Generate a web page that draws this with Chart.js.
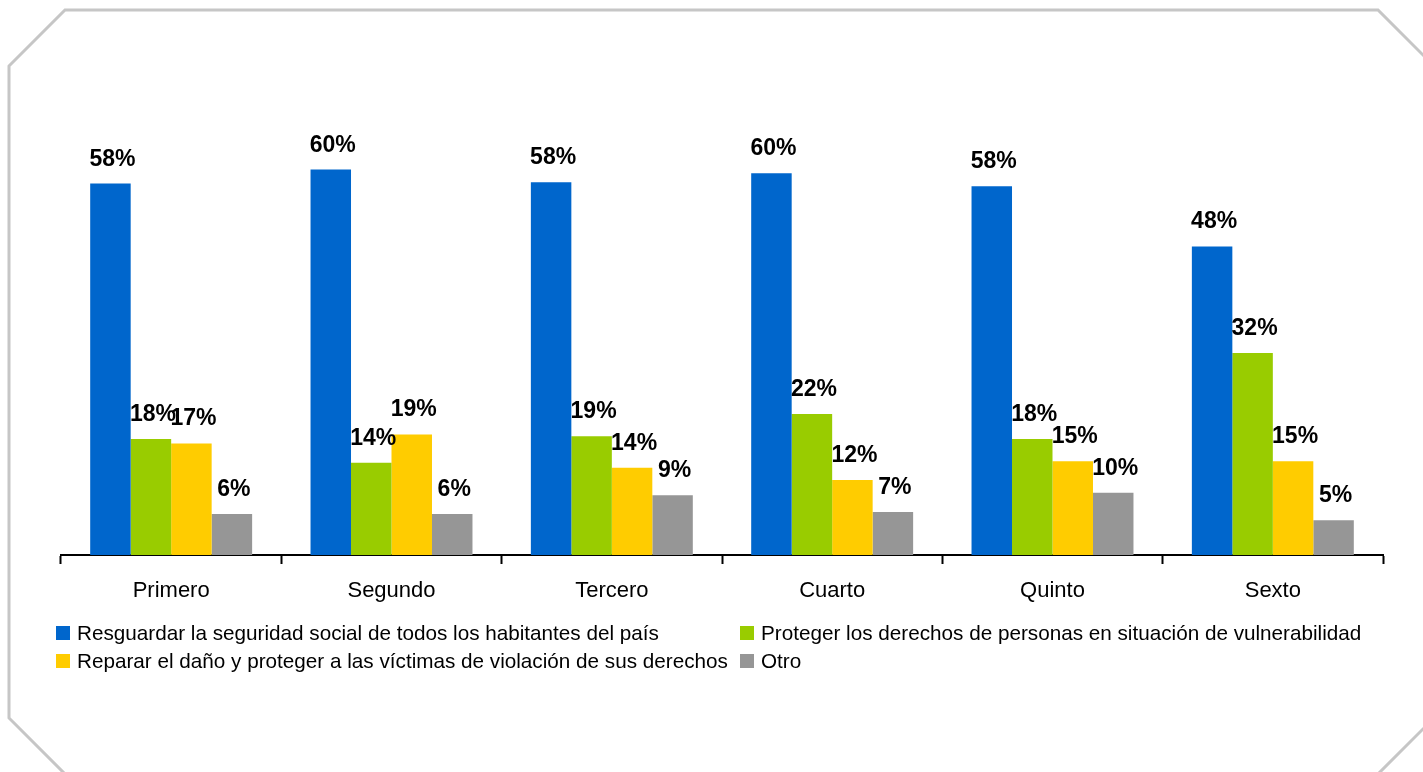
<!DOCTYPE html>
<html>
<head>
<meta charset="utf-8">
<script src="https://cdn.jsdelivr.net/npm/chart.js@4/dist/chart.umd.min.js"></script>
<style>
  html, body { margin: 0; padding: 0; background: #ffffff; }
  #wrap { position: relative; width: 1423px; height: 772px; overflow: hidden; }
  #chart { position: absolute; left: 0; top: 0; }
  #legend {
    position: absolute; left: 56px; top: 619px;
    display: grid; grid-template-columns: 684px auto;
    font-family: "Liberation Sans", Arial, sans-serif; font-size: 20.7px; color: #000;
  }
  .li { height: 28px; line-height: 28px; white-space: nowrap; display: flex; align-items: center; }
  .bx { display: inline-block; width: 14px; height: 14px; margin-right: 7px; flex: none; }
</style>
</head>
<body>
<div id="wrap">
  <canvas id="chart" width="1423" height="772"></canvas>
  <div id="legend"></div>
</div>
<script>
const categories = ['Primero', 'Segundo', 'Tercero', 'Cuarto', 'Quinto', 'Sexto'];
const seriesNames = [
  'Resguardar la seguridad social de todos los habitantes del país',
  'Proteger los derechos de personas en situación de vulnerabilidad',
  'Reparar el daño y proteger a las víctimas de violación de sus derechos',
  'Otro'
];
const resguardar = [57.9, 60.1, 58.1, 59.5, 57.5, 48.1];
const proteger   = [18.1, 14.4, 18.5, 22.0, 18.1, 31.5];
const reparar    = [17.4, 18.8, 13.6, 11.7, 14.6, 14.6];
const otro       = [6.4, 6.4, 9.3, 6.7, 9.7, 5.4];
const colors = ['#0066CC', '#99CC00', '#FFCC00', '#969696'];

const FONT = '"Liberation Sans", Arial, sans-serif';

const framePlugin = {
  id: 'frame',
  beforeDraw(chart) {
    const ctx = chart.ctx;
    ctx.save();
    ctx.fillStyle = '#ffffff';
    ctx.fillRect(0, 0, chart.width, chart.height);
    ctx.strokeStyle = '#c6c6c6';
    ctx.lineWidth = 3;
    ctx.beginPath();
    const L = 9, T = 10, R = 1434, B = 774, c = 56;
    ctx.moveTo(L, T + c);
    ctx.lineTo(L + c, T);
    ctx.lineTo(R - c, T);
    ctx.lineTo(R, T + c);
    ctx.lineTo(R, B - c);
    ctx.lineTo(R - c, B);
    ctx.lineTo(L + c, B);
    ctx.lineTo(L, B - c);
    ctx.closePath();
    ctx.stroke();
    ctx.restore();
  }
};

const valueLabels = {
  id: 'valueLabels',
  afterDatasetsDraw(chart) {
    const ctx = chart.ctx;
    ctx.save();
    ctx.font = 'bold 23px ' + FONT;
    ctx.fillStyle = '#000000';
    ctx.textAlign = 'center';
    ctx.textBaseline = 'alphabetic';
    chart.data.datasets.forEach((ds, i) => {
      const meta = chart.getDatasetMeta(i);
      meta.data.forEach((bar, j) => {
        const v = ds.data[j];
        ctx.fillText(Math.round(v) + '%', bar.x + 2, bar.y - 18);
      });
    });
    ctx.restore();
  }
};

const htmlLegend = {
  id: 'htmlLegend',
  afterUpdate(chart) {
    const box = document.getElementById('legend');
    box.innerHTML = '';
    const items = chart.options.plugins.legend.labels.generateLabels(chart);
    items.forEach(item => {
      const d = document.createElement('div');
      d.className = 'li';
      const s = document.createElement('span');
      s.className = 'bx';
      s.style.background = item.fillStyle;
      const t = document.createElement('span');
      t.textContent = item.text;
      d.appendChild(s);
      d.appendChild(t);
      box.appendChild(d);
    });
  }
};

const datasets = [resguardar, proteger, reparar, otro].map((arr, i) => ({
  label: seriesNames[i],
  data: arr,
  backgroundColor: colors[i],
  borderWidth: 0,
  categoryPercentage: 0.735,
  barPercentage: 1.0
}));

new Chart(document.getElementById('chart'), {
  type: 'bar',
  data: { labels: categories, datasets },
  options: {
    responsive: false,
    animation: false,
    layout: { padding: { left: 61, right: 40, top: 106, bottom: 153.6 } },
    plugins: {
      legend: { display: false },
      tooltip: { enabled: false }
    },
    scales: {
      x: {
        grid: {
          display: true,
          drawOnChartArea: false,
          drawTicks: true,
          tickLength: 9,
          tickColor: '#000000',
          tickWidth: 2,
          offset: true
        },
        border: { display: true, color: '#000000', width: 2 },
        ticks: {
          color: '#000000',
          padding: 14,
          font: { family: FONT, size: 22 }
        }
      },
      y: {
        display: false,
        min: 0,
        max: 70
      }
    }
  },
  plugins: [framePlugin, valueLabels, htmlLegend]
});
</script>
</body>
</html>
